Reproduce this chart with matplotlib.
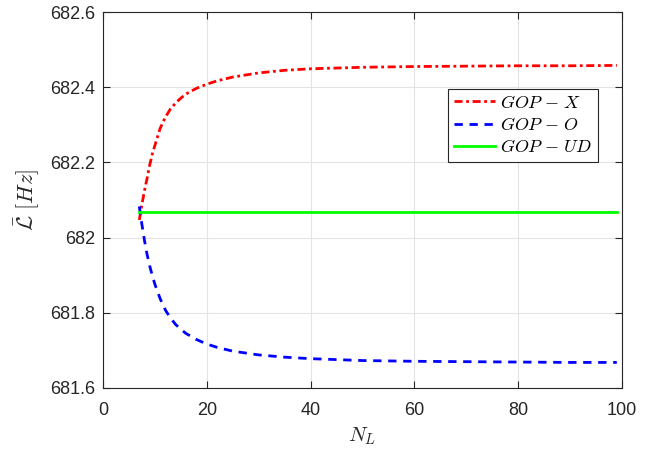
import matplotlib
matplotlib.use("Agg")
import matplotlib.pyplot as plt

plt.rcParams['mathtext.fontset'] = 'cm'
plt.rcParams['font.family'] = ['Liberation Sans', 'DejaVu Sans']

x_red = [7, 7.5, 8, 8.5, 9, 9.5, 10, 11, 12, 13, 14, 15, 16, 18, 20, 22, 25, 30, 35, 40,
         50, 60, 70, 80, 90, 99]
gop_x = [682.047, 682.088, 682.125, 682.158, 682.193, 682.222, 682.245, 682.290, 682.320,
         682.342, 682.358, 682.371, 682.382, 682.397, 682.408, 682.417, 682.427, 682.438,
         682.445, 682.449, 682.453, 682.455, 682.456, 682.457, 682.457, 682.458]
x_blue = [7, 7.5, 8, 8.5, 9, 9.5, 10, 11, 12, 13, 14, 15, 16, 18, 20, 22, 25, 30, 35, 40,
          50, 60, 70, 80, 90, 99]
gop_o = [682.083, 682.035, 681.992, 681.955, 681.925, 681.899, 681.876, 681.838, 681.808,
         681.786, 681.769, 681.756, 681.745, 681.729, 681.717, 681.708, 681.698, 681.688,
         681.682, 681.678, 681.673, 681.671, 681.670, 681.669, 681.668, 681.668]
x_green = [7, 99]
gop_ud = [682.069, 682.069]

labels = [r'$GOP$ $-$ $X$', r'$GOP$ $-$ $O$', r'$GOP$ $-$ $UD$']
xticks = [0, 20, 40, 60, 80, 100]
yticks = [681.6, 681.8, 682.0, 682.2, 682.4, 682.6]
yticklabels = ['681.6', '681.8', '682', '682.2', '682.4', '682.6']

fig = plt.figure(figsize=(6.53, 4.5), dpi=100)
ax = fig.add_axes([0.1577, 0.1378, 0.7948, 0.8355])

ax.plot(x_red, gop_x, color='#ff0000', linestyle='-.', linewidth=2.0, label=labels[0],
        dashes=(2.9, 1.3, 1.0, 1.3))
ax.plot(x_blue, gop_o, color='#0000ff', linestyle='--', linewidth=2.0, label=labels[1],
        dashes=(3.0, 2.4))
ax.plot(x_green, gop_ud, color='#00ff00', linestyle='-', linewidth=2.0, label=labels[2])

ax.set_xlim(0, 100)
ax.set_ylim(681.6, 682.6)
ax.set_xticks(xticks)
ax.set_xticklabels([str(t) for t in xticks])
ax.set_yticks(yticks)
ax.set_yticklabels(yticklabels)
ax.grid(True, color='#e3e3e3', linewidth=0.8)
ax.set_axisbelow(True)
ax.tick_params(direction='in', length=5, width=0.8, labelsize=13, colors='#262626',
               top=True, right=True)
ax.tick_params(axis='x', pad=10)
ax.tick_params(axis='y', pad=5.5)
for s in ax.spines.values():
    s.set_color('#262626')
    s.set_linewidth(0.8)

ax.set_xlabel('$N_L$', fontsize=15, color='#262626', labelpad=5)
ax.set_ylabel(r'$\bar{\mathcal{L}}\ [Hz]$', fontsize=16, color='#262626', labelpad=6)

leg = ax.legend(loc='upper left', bbox_to_anchor=(0.665, 0.795), fontsize=13,
                handlelength=2.3, handletextpad=0.28, borderpad=0.3, labelspacing=0.3,
                fancybox=False, framealpha=1, edgecolor='#262626', borderaxespad=0)
leg.get_frame().set_linewidth(0.8)

fig.savefig('out.png', dpi=100)
